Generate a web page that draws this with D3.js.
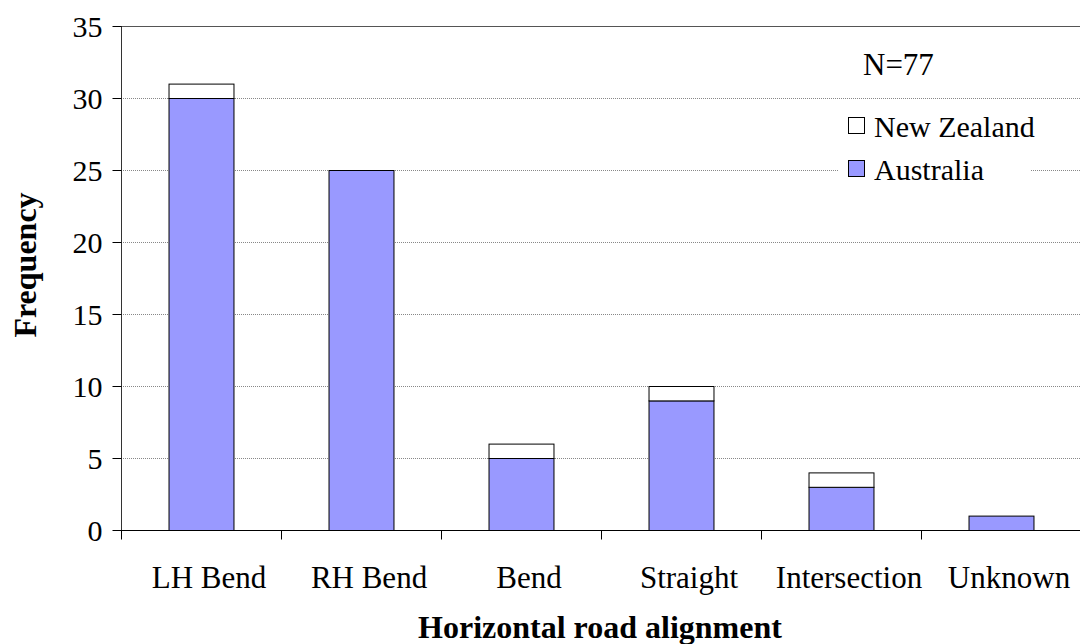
<!DOCTYPE html>
<html><head><meta charset="utf-8">
<script src="https://cdn.jsdelivr.net/npm/d3@7"></script>
<style>body{margin:0;background:#fff}svg{display:block}text{font-family:"Liberation Serif","Times New Roman",serif}</style>
</head><body><svg width="1080" height="644"></svg>
<script>
const categories = ["LH Bend","RH Bend","Bend","Straight","Intersection","Unknown"];
const australia = [30,25,5,9,3,1];
const newZealand = [1,0,1,1,1,0];
const yTicks = [0,5,10,15,20,25,30,35];
const seriesNames = ["New Zealand","Australia"];

const svg = d3.select("svg");
const L = 121, R = 1081, T = 26, B = 530;
const x = d3.scaleBand().domain(categories).range([L,R]).paddingInner(0.594).paddingOuter(0.297);
const y = d3.scaleLinear().domain([0,35]).range([B,T]);

// gridlines
svg.append("g").selectAll("line").data(yTicks.filter(d=>d>0)).join("line")
  .attr("x1",L).attr("x2",R).attr("y1",d=>y(d)+0.5).attr("y2",d=>y(d)+0.5)
  .attr("stroke",d=>d===35?"#555":"#888").attr("stroke-width",1)
  .attr("stroke-dasharray",d=>d===35?null:"1,1");

// legend background
svg.append("rect").attr("x",838).attr("y",110).attr("width",192).attr("height",86).attr("fill","#fff");

// bars
const stacked = categories.map((c,i)=>({c, a:australia[i], n:newZealand[i]}));
const g = svg.append("g");
g.selectAll("rect.au").data(stacked).join("rect").attr("class","au")
  .attr("x",d=>x(d.c)+0.5).attr("width",x.bandwidth())
  .attr("y",d=>y(d.a)+0.5).attr("height",d=>y(0)-y(d.a))
  .attr("fill","#9999ff").attr("stroke","#000").attr("stroke-width",1);
g.selectAll("rect.nz").data(stacked.filter(d=>d.n>0)).join("rect").attr("class","nz")
  .attr("x",d=>x(d.c)+0.5).attr("width",x.bandwidth())
  .attr("y",d=>y(d.a+d.n)+0.5).attr("height",d=>y(d.a)-y(d.a+d.n))
  .attr("fill","#fff").attr("stroke","#000").attr("stroke-width",1);

// y axis
const ya = svg.append("g").attr("transform",`translate(${L+0.5},0)`)
  .call(d3.axisLeft(y).tickValues(yTicks).tickSize(9).tickPadding(10).tickFormat(d3.format("d")));
ya.attr("font-family",null).attr("font-size",null);
ya.select(".domain").attr("stroke","#333").attr("d",`M0,${T}V${B+0.5}`);
ya.selectAll(".tick line").attr("stroke","#000");
ya.selectAll(".tick text").attr("font-size",30).attr("fill","#000").attr("dy","0.36em");

// x axis
const xa = svg.append("g").attr("transform",`translate(0,${B+0.5})`);
xa.append("line").attr("x1",L).attr("x2",1080).attr("stroke","#000");
const bounds = d3.range(categories.length).map(i=>L + i*x.step());
xa.selectAll("line.t").data(bounds).join("line").attr("class","t")
  .attr("x1",d=>Math.round(d)+0.5).attr("x2",d=>Math.round(d)+0.5).attr("y1",0).attr("y2",9).attr("stroke","#000");
xa.selectAll("text").data(categories).join("text")
  .attr("x",d=>x(d)+x.bandwidth()/2+8).attr("y",57).attr("text-anchor","middle")
  .attr("font-size",31).attr("fill","#000").text(d=>d);

// axis titles
svg.append("text").attr("x",600).attr("y",638).attr("text-anchor","middle")
  .attr("font-size",32).attr("font-weight","bold").text("Horizontal road alignment");
svg.append("text").attr("transform","translate(36,265) rotate(-90)").attr("text-anchor","middle")
  .attr("font-size",32).attr("font-weight","bold").text("Frequency");

// N label
svg.append("text").attr("x",863).attr("y",75).attr("font-size",31).text("N=77");

// legend
const leg = svg.append("g");
const fills = ["#fff","#9999ff"];
seriesNames.forEach((s,i)=>{
  const base = 137 + i*43;
  leg.append("rect").attr("x",848.5).attr("y",base-19.5).attr("width",16).attr("height",16)
    .attr("fill",fills[i]).attr("stroke","#000");
  leg.append("text").attr("x",874).attr("y",base).attr("font-size",30).text(s);
});
</script></body></html>
